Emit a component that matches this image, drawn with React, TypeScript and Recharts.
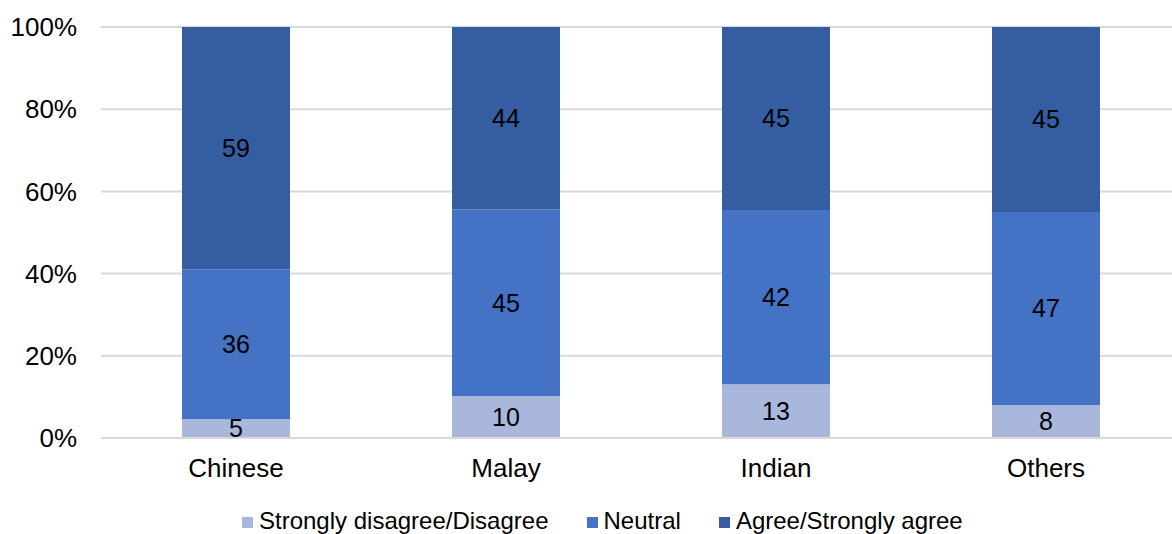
import { BarChart, Bar, XAxis, YAxis, CartesianGrid, Legend, LabelList } from "recharts";

const groups = ["Chinese", "Malay", "Indian", "Others"];
const disagree = [4.6, 10.2, 13.1, 8.0];
const neutral = [36.4, 45.4, 42.4, 47.0];
const agree = [58.9, 44.4, 44.5, 45.0];
const yTicks = [0, 0.2, 0.4, 0.6, 0.8, 1];

const seriesInfo = [
  { key: "disagree", name: "Strongly disagree/Disagree", color: "#a9b7dc" },
  { key: "neutral", name: "Neutral", color: "#4472c4" },
  { key: "agree", name: "Agree/Strongly agree", color: "#345ea1" },
];

const data = groups.map((g, i) => ({
  group: g,
  disagree: disagree[i],
  neutral: neutral[i],
  agree: agree[i],
}));

const font = "'Liberation Sans', Arial, sans-serif";

// custom legend so the spacing matches the original
function LegendBox() {
  return (
    <div
      style={{
        display: "flex",
        height: 40,
        boxSizing: "border-box",
        paddingTop: 14,
        paddingLeft: 242,
        gap: 38,
        fontFamily: font,
        fontSize: 24,
        lineHeight: "normal",
        color: "#000",
      }}
    >
      {seriesInfo.map((s) => (
        <div key={s.key} style={{ display: "flex", alignItems: "center", gap: 6 }}>
          <span style={{ width: 11, height: 11, background: s.color, display: "inline-block", marginTop: 3 }} />
          <span>{s.name}</span>
        </div>
      ))}
    </div>
  );
}

export default function App() {
  return (
    <div style={{ position: "absolute", left: 0, top: 0, width: 1172, height: 534, overflow: "hidden", background: "#fff" }}>
      <BarChart
        width={1181}
        height={534}
        data={data}
        stackOffset="expand"
        margin={{ top: 27, right: 0, bottom: 0, left: 0 }}
        style={{ fontFamily: font }}
      >
        <CartesianGrid vertical={false} stroke="#d9d9d9" strokeWidth={2} />
        <XAxis
          dataKey="group"
          tickLine={false}
          axisLine={{ stroke: "#d9d9d9", strokeWidth: 2 }}
          tick={{ fill: "#000", fontSize: 26 }}
          tickMargin={15}
          height={56}
        />
        <YAxis
          width={101}
          ticks={yTicks}
          domain={[0, 1]}
          tickFormatter={(v: number) => `${Math.round(v * 100)}%`}
          tickLine={false}
          axisLine={false}
          tickMargin={18}
          tick={{ fill: "#000", fontSize: 26 }}
        />
        <Legend verticalAlign="bottom" wrapperStyle={{ left: 0, width: 1172 }} content={<LegendBox />} />
        {seriesInfo.map((s) => (
          <Bar key={s.key} dataKey={s.key} name={s.name} stackId="a" fill={s.color} barSize={108} isAnimationActive={false}>
            <LabelList
              dataKey={s.key}
              position="center"
              formatter={(v: any) => Math.round(Number(v))}
              style={{ fill: "#000", fontSize: 25, fontFamily: font }}
            />
          </Bar>
        ))}
      </BarChart>
    </div>
  );
}
